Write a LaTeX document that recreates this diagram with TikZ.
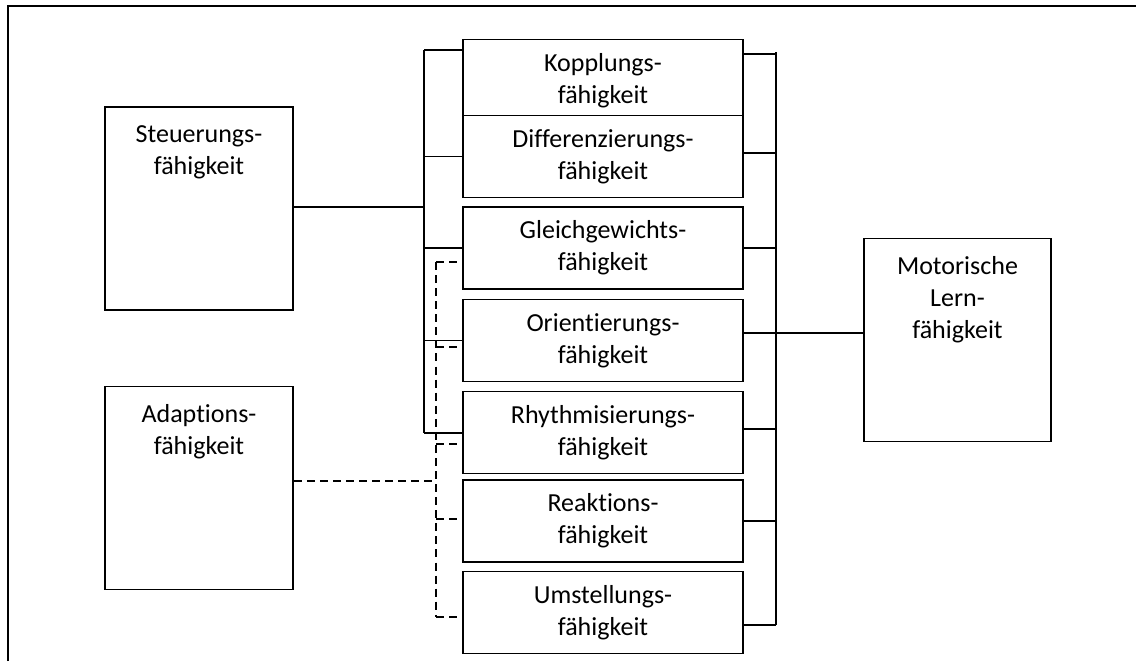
\documentclass[tikz,border=0pt]{standalone}
\usepackage{fontspec}
\setmainfont{Carlito}[Ligatures={NoCommon,NoContextual},Contextuals=NoAlternate]
\usetikzlibrary{positioning}

\tikzset{
  capbox/.style={draw, fill=white, line width=1.2pt, minimum width=210pt, minimum height=61.5pt, inner sep=0pt, align=center, font=\fontsize{19.5}{24}\selectfont},
  sidebox/.style={draw, fill=white, line width=1.2pt, minimum width=141pt, minimum height=152pt, inner sep=0pt},
  sidetext/.style={inner sep=0pt, align=center, font=\fontsize{19.5}{24}\selectfont},
  conn/.style={line width=0.9pt},
  dconn/.style={line width=0.9pt, dash pattern=on 6pt off 3.8pt}
}

\begin{document}
\begin{tikzpicture}[x=0.75pt,y=-0.75pt]
\useasboundingbox (0,0) rectangle (1136,661);
\draw[line width=1.4pt] (8,661) -- (8,6) -- (1136,6);

\node[sidebox] (steu) at (199,208.5) {};
\node[sidetext, below=14pt of steu.north] {Steuerungs-\\fähigkeit};
\node[sidebox] (adap) at (199,488) {};
\node[sidetext, below=14pt of adap.north] {Adaptions-\\fähigkeit};
\node[sidebox, minimum width=140pt] (moto) at (957.5,340) {};
\node[sidetext, below=14pt of moto.north] {Motorische\\Lern-\\fähigkeit};

\node[capbox] (kopp) at (603,80.5) {Kopplungs-\\fähigkeit};
\node[capbox] (diff) at (603,156.5) {Differenzierungs-\\fähigkeit};
\node[capbox] (glei) at (603,248) {Gleichgewichts-\\fähigkeit};
\node[capbox] (orie) at (603,340.5) {Orientierungs-\\fähigkeit};
\node[capbox] (rhyt) at (603,432.5) {Rhythmisierungs-\\fähigkeit};
\node[capbox] (reak) at (603,521) {Reaktions-\\fähigkeit};
\node[capbox] (umst) at (603,612.5) {Umstellungs-\\fähigkeit};

\coordinate (ltop) at (424,50);
\coordinate (lbot) at (424,433);
\coordinate (lsteu) at (424,207);
\draw[conn] (ltop) -- (lbot);
\draw[conn] (steu.east |- lsteu) -- (lsteu);
\draw[conn] (ltop) -- (ltop -| kopp.west);
\draw[conn] (diff.west -| ltop) -- (diff.west);
\draw[conn] (glei.west -| ltop) -- (glei.west);
\draw[conn] (orie.west -| ltop) -- (orie.west);
\draw[conn] (lbot) -- (lbot -| rhyt.west);

\coordinate (dglei) at (436,262);
\coordinate (dorie) at (436,347);
\coordinate (drhyt) at (436,444);
\coordinate (dadap) at (436,481);
\coordinate (dreak) at (436,519);
\coordinate (dumst) at (436,617);
\draw[dconn] (dglei) -- (dumst);
\draw[dconn] (adap.east |- dadap) -- (dadap);
\draw[dconn] (dglei) -- (dglei -| glei.west);
\draw[dconn] (dorie) -- (dorie -| orie.west);
\draw[dconn] (drhyt) -- (drhyt -| rhyt.west);
\draw[dconn] (dreak) -- (dreak -| reak.west);
\draw[dconn] (dumst) -- (dumst -| umst.west);

\coordinate (rtop) at (776,52);
\coordinate (rbot) at (776,625);
\coordinate (rmoto) at (776,333);
\draw[conn] (rtop) -- (rbot);
\draw[conn] (rmoto) -- (rmoto -| moto.west);
\draw[conn] (kopp.east |- 0,54) -- (rtop |- 0,54);
\draw[conn] (diff.east |- 0,153) -- (rtop |- 0,153);
\draw[conn] (glei.east) -- (glei.east -| rtop);
\draw[conn] (orie.east |- rmoto) -- (rmoto);
\draw[conn] (rhyt.east |- 0,429) -- (rtop |- 0,429);
\draw[conn] (reak.east) -- (reak.east -| rtop);
\draw[conn] (umst.east |- rbot) -- (rbot);
\end{tikzpicture}
\end{document}
